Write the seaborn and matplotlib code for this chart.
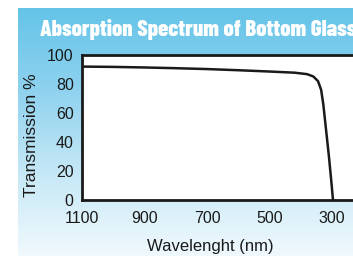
import numpy as np
import matplotlib
matplotlib.use("Agg")
import matplotlib.pyplot as plt
import seaborn as sns
import pandas as pd
from matplotlib.colors import LinearSegmentedColormap

sns.set_theme(style="white")
plt.rcParams['font.family'] = ['Liberation Sans', 'DejaVu Sans']

# transmission curve
wavelength = [1100, 1000, 900, 800, 700, 600, 500, 420, 380, 360, 345, 335, 328, 320, 310, 302, 297]
transmission = [92, 91.8, 91.4, 90.9, 90.3, 89.5, 88.6, 87.8, 86.8, 85.2, 82, 76, 66, 50, 30, 12, 0]
x_ticks = [1100, 900, 700, 500, 300]
y_ticks = [0, 20, 40, 60, 80, 100]

df = pd.DataFrame({"wavelength": wavelength, "transmission": transmission})

W, H = 353, 256
fig = plt.figure(figsize=(W / 100, H / 100), dpi=100)
fig.patch.set_facecolor("white")

# blue gradient panel behind the chart
bg = fig.add_axes([18 / W, 0, 1 - 18 / W, (H - 8) / H], zorder=0)
cmap = LinearSegmentedColormap.from_list("panel", ["#64c4e8", "#8fd2ef", "#c6e8f6", "#f0f9fd"])
bg.imshow(np.linspace(0, 1, 256).reshape(-1, 1), aspect="auto", cmap=cmap,
          extent=[0, 1, 0, 1], origin="upper")
bg.axis("off")

fig.text(40 / W, 1 - 36 / H, "Absorption Spectrum of Bottom Glass",
         family=["Barlow Condensed", "Liberation Sans", "DejaVu Sans"],
         fontweight=800, fontsize=16.5, color="white", ha="left", va="baseline")

ax = fig.add_axes([82 / W, 56 / H, 1 - 82 / W, 145 / H], zorder=1)
ax.set_facecolor("white")
sns.lineplot(data=df, x="wavelength", y="transmission", sort=False, ax=ax,
             color="#1a1a1a", linewidth=1.8)

ax.set_xlim(1100, 233)
ax.set_ylim(0, 100)
ax.set_xticks(x_ticks)
ax.set_yticks(y_ticks)
ax.grid(False)
for side in ["left", "bottom", "top"]:
    ax.spines[side].set_color("#1a1a1a")
    ax.spines[side].set_linewidth(2.0)
ax.spines["right"].set_visible(False)
ax.tick_params(axis="both", direction="out", length=4.5, width=1.7, color="#1a1a1a",
               labelsize=11.5, labelcolor="#1a1a1a")
ax.tick_params(axis="y", pad=1.5)
ax.tick_params(axis="x", pad=3.5)

ax.set_xlabel("Wavelenght (nm)", fontsize=12, color="#1a1a1a")
ax.set_ylabel("Transmission %", fontsize=12.5, color="#1a1a1a")
ax.xaxis.set_label_coords((210 - 82) / (W - 82), -(247 - 200) / 145)
ax.yaxis.set_label_coords(-(82 - 32) / (W - 82), (200 - 135) / 145)
ax.xaxis.label.set_va("center")
ax.yaxis.label.set_va("center")

fig.savefig("out.png", dpi=100)
